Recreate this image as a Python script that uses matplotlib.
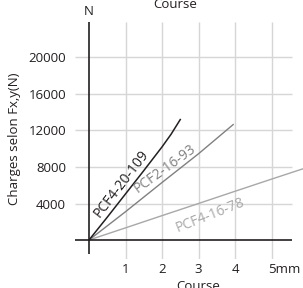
import numpy as np
import matplotlib
matplotlib.use("Agg")
import matplotlib.pyplot as plt
from matplotlib.transforms import ScaledTranslation, blended_transform_factory

plt.rcParams['font.family'] = ['Open Sans', 'DejaVu Sans']

# donnees (course en mm, charge en N)
x_109 = [0, 0.5, 1, 1.5, 2, 2.25, 2.5]
y_109 = [0, 2500, 5050, 7600, 10200, 11600, 13200]
x_93 = [0, 1, 2, 3, 3.95]
y_93 = [0, 3100, 6300, 9450, 12650]
x_78 = [0, 1, 2, 3, 4, 5, 5.86]
y_78 = [0, 1330, 2670, 4000, 5340, 6670, 7800]

xticks = [1, 2, 3, 4, 5]
xlabels = ["1", "2", "3", "4", "5mm"]
yticks = [4000, 8000, 12000, 16000, 20000]

noir = "#231f20"
gris = "#808080"
gris_clair = "#a8a8a8"
grille = "#d6d6d6"

fig = plt.figure(figsize=(3.03, 2.88), dpi=100)
ax = fig.add_axes([75/303, 29.5/288, 228/303, 236.5/288])
xmin, xmax = -0.384, 5.863
ymin, ymax = -2027, 23890
ax.set_xlim(xmin, xmax)
ax.set_ylim(ymin, ymax)
for s in ax.spines.values():
    s.set_visible(False)

# grille
ax.vlines(xticks, ymin, ymax, color=grille, lw=1.0, zorder=1)
ax.hlines(yticks, xmin, 5.56, color=grille, lw=1.0, zorder=1)
# axes
ax.hlines(0, xmin, 5.56, color=noir, lw=1.2, zorder=3)
ax.vlines(0, -1500, ymax, color=noir, lw=1.2, zorder=3)

ax.plot(x_78, y_78, color=gris_clair, lw=1.0, zorder=2, clip_on=False)
ax.plot(x_93, y_93, color=gris, lw=1.0, zorder=2)
ax.plot(x_109, y_109, color=noir, lw=1.1, zorder=2)

ax.text(0.9, 6150, "PCF4-20-109", color=noir, fontsize=10, rotation=52.5,
        rotation_mode="anchor", ha="center", va="center")
ax.text(2.07, 7850, "PCF2-16-93", color=gris, fontsize=10, rotation=36,
        rotation_mode="anchor", ha="center", va="center")
ax.text(3.32, 2750, "PCF4-16-78", color=gris_clair, fontsize=10, rotation=21.6,
        rotation_mode="anchor", ha="center", va="center")

ax.set_xticks(xticks)
ax.set_xticklabels(xlabels)
ax.set_yticks(yticks)
ax.set_yticklabels([str(v) for v in yticks])
ax.tick_params(axis="x", length=0, pad=3, labelsize=9.5, labelcolor=noir)
ax.tick_params(axis="y", length=0, pad=6.5, labelsize=9.5, labelcolor=noir)
lab5 = ax.get_xticklabels()[-1]
lab5.set_horizontalalignment("left")
lab5.set_transform(lab5.get_transform() + ScaledTranslation(-3.7/100, 0, fig.dpi_scale_trans))

trans = blended_transform_factory(ax.transData, ax.transAxes)
ax.text(0, 1 + 4/236.5, "N", transform=trans, ha="center", va="bottom",
        fontsize=9.5, color=noir)

fig.text(15/303, 1 - 139/288, "Charges selon Fx,y(N)", rotation=90,
         ha="center", va="center", fontsize=9.5, color=noir)
fig.text(176/303, 8/288, "Course", ha="left", va="top", fontsize=9.5, color=noir)
fig.text(175/303, 1 - 8.3/288, "Course", ha="center", va="baseline",
         fontsize=9.5, color=noir)

fig.savefig("out.png", dpi=100)
